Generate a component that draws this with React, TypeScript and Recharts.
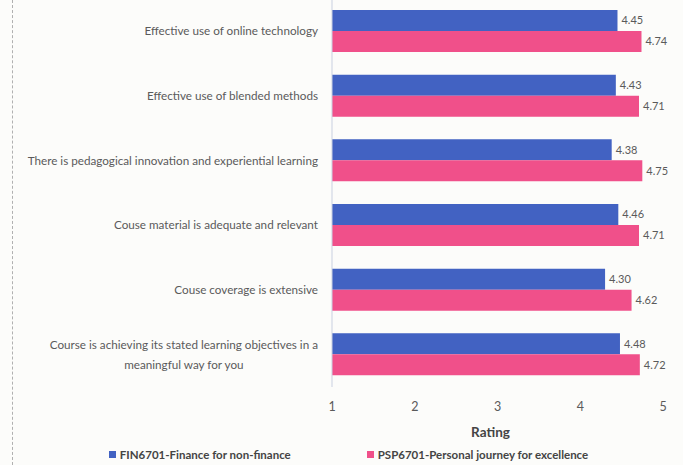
import { BarChart, Bar, XAxis, YAxis, Legend, LabelList, Label } from "recharts";

const criteria = [
  "Effective use of online technology",
  "Effective use of blended methods",
  "There is pedagogical innovation and experiential learning",
  "Couse material is adequate and relevant",
  "Couse coverage is extensive",
  "Course is achieving its stated learning objectives in a\nmeaningful way for you",
];
const fin6701 = [4.45, 4.43, 4.38, 4.46, 4.3, 4.48];
const psp6701 = [4.74, 4.71, 4.75, 4.71, 4.62, 4.72];
const ratingTicks = [1, 2, 3, 4, 5];

const FONT = "Lato, 'Liberation Sans', sans-serif";
const BLUE = "#4262c2";
const PINK = "#f0508a";
const CAT_SIZE = 11.7;

const data = criteria.map((name, i) => ({
  name,
  fin: fin6701[i],
  psp: psp6701[i],
}));

let ctx: CanvasRenderingContext2D | null = null;
function textWidth(s: string, font: string) {
  if (!ctx) ctx = document.createElement("canvas").getContext("2d");
  if (!ctx) return s.length * 6;
  ctx.font = font;
  return ctx.measureText(s).width;
}

function CategoryTick({ x, y, payload }: any) {
  const lines = String(payload.value).split("\n");
  const style = { fontFamily: FONT, fontSize: CAT_SIZE, fill: "#5a5a5a" };
  if (lines.length === 1) {
    return (
      <text x={x} y={y} dy="0.35em" textAnchor="end" style={style}>
        {lines[0]}
      </text>
    );
  }
  const w = Math.max(...lines.map((l) => textWidth(l, `${CAT_SIZE}px ${FONT}`)));
  const lh = 20;
  const y0 = y - ((lines.length - 1) * lh) / 2;
  return (
    <text x={x - w / 2} y={y0} textAnchor="middle" style={style}>
      {lines.map((l, i) => (
        <tspan key={i} x={x - w / 2} dy={i === 0 ? "0.35em" : lh}>
          {l}
        </tspan>
      ))}
    </text>
  );
}

function LegendBox() {
  const items = [
    { label: "FIN6701-Finance for non-finance", color: BLUE },
    { label: "PSP6701-Personal journey for excellence", color: PINK },
  ];
  return (
    <div
      style={{
        display: "flex",
        justifyContent: "center",
        gap: 76,
        fontFamily: FONT,
        fontSize: 11.5,
        fontWeight: 700,
        color: "#444",
        paddingLeft: 34,
        paddingTop: 5,
      }}
    >
      {items.map((it) => (
        <span key={it.label} style={{ display: "flex", alignItems: "center" }}>
          <span
            style={{
              width: 7,
              height: 7,
              background: it.color,
              marginRight: 4,
              display: "inline-block",
            }}
          />
          {it.label}
        </span>
      ))}
    </div>
  );
}

export default function App() {
  return (
    <div
      style={{
        position: "absolute",
        left: 0,
        top: 0,
        width: 683,
        height: 465,
        background: "#fcfcfa",
        overflow: "hidden",
      }}
    >
      <div
        style={{
          position: "absolute",
          left: 12,
          top: 0,
          height: 465,
          borderLeft: "1px dashed #b0b0b0",
        }}
      />
      <div style={{ position: "absolute", left: 0, top: -1 }}>
        <BarChart
          width={683}
          height={466}
          data={data}
          layout="vertical"
          margin={{ top: 0, right: 20, bottom: 0, left: 0 }}
          barGap={0}
          barSize={21}
        >
          <XAxis
            type="number"
            domain={[1, 5]}
            ticks={ratingTicks}
            axisLine={false}
            tickLine={false}
            tickSize={0}
            tickMargin={15}
            height={56}
            tick={{ fontFamily: FONT, fontSize: 12.5, fill: "#5a5a5a" }}
          >
            <Label
              value="Rating"
              position="insideBottom"
              offset={6}
              dx={-7}
              style={{ fontFamily: FONT, fontSize: 13.5, fontWeight: 700, fill: "#444" }}
            />
          </XAxis>
          <YAxis
            type="category"
            dataKey="name"
            width={332}
            axisLine={{ stroke: "#c9d0e0" }}
            tickLine={false}
            tickSize={6}
            tickMargin={8}
            tick={<CategoryTick />}
            interval={0}
          />
          <Legend verticalAlign="bottom" height={22} content={<LegendBox />} />
          <Bar dataKey="fin" name="FIN6701-Finance for non-finance" fill={BLUE} isAnimationActive={false}>
            <LabelList
              dataKey="fin"
              position="right"
              offset={4}
              formatter={(v: any) => Number(v).toFixed(2)}
              style={{ fontFamily: FONT, fontSize: 11, fill: "#5a5a5a" }}
            />
          </Bar>
          <Bar dataKey="psp" name="PSP6701-Personal journey for excellence" fill={PINK} isAnimationActive={false}>
            <LabelList
              dataKey="psp"
              position="right"
              offset={4}
              formatter={(v: any) => Number(v).toFixed(2)}
              style={{ fontFamily: FONT, fontSize: 11, fill: "#5a5a5a" }}
            />
          </Bar>
        </BarChart>
      </div>
    </div>
  );
}
